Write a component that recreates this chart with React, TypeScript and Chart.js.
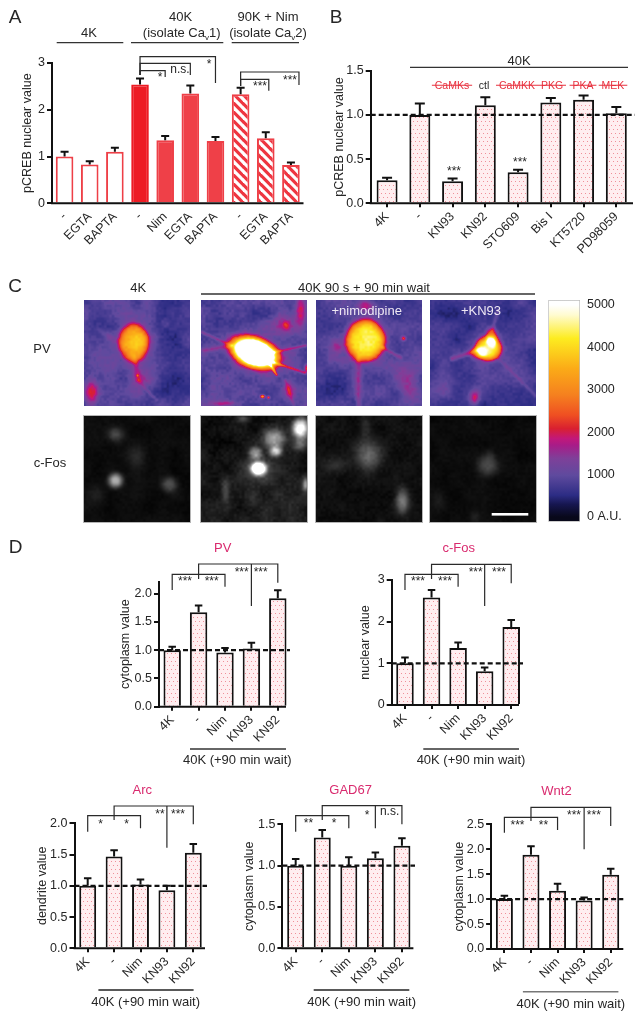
import React, { useEffect, useRef } from "react";
import { Chart, registerables } from "chart.js";

Chart.register(...registerables);

const W = 643;
const H = 1018;
const FONT = '"Liberation Sans", Arial, sans-serif';
const INK = "#262626";

// ---------- data ----------
const catsA = ["-", "EGTA", "BAPTA", "-", "Nim", "EGTA", "BAPTA", "-", "EGTA", "BAPTA"];
const valsA = [1.0, 0.83, 1.1, 2.54, 1.35, 2.35, 1.33, 2.33, 1.39, 0.82];
const topsA = [1.1, 0.9, 1.19, 2.67, 1.44, 2.52, 1.42, 2.47, 1.52, 0.87];
const stylesA = ["open", "open", "open", "solid", "mid", "mid", "mid", "hatch", "hatch", "hatch"];

const catsB = ["4K", "-", "KN93", "KN92", "STO609", "Bis I", "KT5720", "PD98059"];
const valsB = [0.26, 1.0, 0.25, 1.11, 0.35, 1.14, 1.17, 1.02];
const topsB = [0.29, 1.13, 0.28, 1.2, 0.38, 1.19, 1.22, 1.09];

const catsD = ["4K", "-", "Nim", "KN93", "KN92"];
const valsPV = [1.0, 1.67, 0.96, 1.03, 1.92];
const topsPV = [1.06, 1.79, 1.04, 1.13, 2.06];
const valsFos = [1.0, 2.58, 1.37, 0.81, 1.87];
const topsFos = [1.14, 2.76, 1.5, 0.9, 2.04];
const valsArc = [1.0, 1.47, 1.02, 0.93, 1.53];
const topsArc = [1.12, 1.57, 1.1, 1.0, 1.67];
const valsGAD = [1.0, 1.34, 1.0, 1.09, 1.24];
const topsGAD = [1.08, 1.43, 1.1, 1.16, 1.33];
const valsWnt = [1.0, 1.89, 1.17, 0.97, 1.49];
const topsWnt = [1.07, 2.06, 1.31, 1.03, 1.61];

const colorTicks = [0, 1000, 2000, 3000, 4000, 5000];
const lutStops: [number, string][] = [
  [0, "#08081a"], [300, "#161650"], [512, "#2c2c84"], [984, "#5f4a9e"], [1378, "#7e4099"],
  [1693, "#a81c88"], [1850, "#c2187a"], [2087, "#d92030"], [2402, "#ef4f22"], [2874, "#f5801f"],
  [3504, "#fbab17"], [4213, "#fdec20"], [4764, "#fffbd0"], [5000, "#ffffff"],
];

// ---------- panel layout ----------
type Panel = {
  cats: string[]; vals: number[]; tops: number[]; left: number; right: number; top: number; bottom: number;
  yMax: number; step: number; digits: number; yTitle: string; titleX: number; barPct: number; capW: number;
  axisEnd: number; dashEnd?: number; xTicks: boolean; styles?: string[];
  brackets?: number[][]; stems?: number[][];
};

const panels: Panel[] = [
  {
    cats: catsA, vals: valsA, tops: topsA, left: 52, right: 303.5, top: 63, bottom: 203.3, yMax: 3, step: 1, digits: 0,
    yTitle: "pCREB nuclear value", titleX: 28, barPct: 0.7, capW: 8, axisEnd: 303.5, xTicks: false, styles: stylesA,
    brackets: [
      [3, 6, 56.7, 75, 83], [3, 5, 63.3, 75, 75], [3, 4, 70.7, 75, 77],
      [7, 9.32, 72, 86, 85], [7, 8.12, 79.3, 86, 90.7],
    ],
  },
  {
    cats: catsB, vals: valsB, tops: topsB, left: 370.7, right: 632.7, top: 70.7, bottom: 203.3, yMax: 1.5, step: 0.5, digits: 1,
    yTitle: "pCREB nuclear value", titleX: 340, barPct: 0.64, capW: 10, axisEnd: 633, dashEnd: 635, xTicks: true,
  },
  {
    cats: catsD, vals: valsPV, tops: topsPV, left: 159, right: 291, top: 581.7, bottom: 706.7, yMax: 2.212, step: 0.5, digits: 1,
    yTitle: "cytoplasm value", titleX: 126, barPct: 0.66, capW: 7.5, axisEnd: 286, dashEnd: 290, xTicks: true,
    brackets: [[0, 2, 574.3, 590, 586.7], [1, 4, 564, 579, 582.7]], stems: [[3, 564, 606]],
  },
  {
    cats: catsD, vals: valsFos, tops: topsFos, left: 391.7, right: 524.5, top: 580, bottom: 705, yMax: 3, step: 1, digits: 0,
    yTitle: "nuclear value", titleX: 365.7, barPct: 0.66, capW: 7.5, axisEnd: 519, dashEnd: 523, xTicks: true,
    brackets: [[0, 2, 574.3, 590, 586.7], [1, 4, 564.3, 579, 583.3]], stems: [[3, 564.3, 606]],
  },
  {
    cats: catsD, vals: valsArc, tops: topsArc, left: 74.5, right: 206.5, top: 823.3, bottom: 948.3, yMax: 2, step: 0.5, digits: 1,
    yTitle: "dendrite value", titleX: 42.2, barPct: 0.64, capW: 7.5, axisEnd: 205, dashEnd: 207, xTicks: true,
    brackets: [[0, 2, 815.7, 831.7, 828.3], [1, 4, 806, 820, 824.3]], stems: [[3, 806, 847.7]],
  },
  {
    cats: catsD, vals: valsGAD, tops: topsGAD, left: 282.4, right: 415.2, top: 824.3, bottom: 948.3, yMax: 1.5, step: 0.5, digits: 1,
    yTitle: "cytoplasm value", titleX: 250, barPct: 0.64, capW: 7.5, axisEnd: 413.4, dashEnd: 415, xTicks: true,
    brackets: [[0, 2, 815.7, 831.7, 828.3], [1, 4, 805.7, 820, 824.3]], stems: [[3, 805.7, 828.3]],
  },
  {
    cats: catsD, vals: valsWnt, tops: topsWnt, left: 491.1, right: 624, top: 824.3, bottom: 949, yMax: 2.5, step: 0.5, digits: 1,
    yTitle: "cytoplasm value", titleX: 460, barPct: 0.64, capW: 7.5, axisEnd: 623.3, dashEnd: 623.3, xTicks: true,
    brackets: [[0, 2, 817.3, 832.7, 830], [1, 4, 807.3, 821, 826]], stems: [[3, 807.3, 849.3]],
  },
];

// ---------- text ----------
const RED = "#e8323f";
const PINK = "#d92a6e";
type Lab = { t: string; x: number; y: number; s?: number; c?: string; strike?: boolean };
const labels: Lab[] = [
  { t: "A", x: 15, y: 16, s: 19 }, { t: "B", x: 336, y: 16, s: 19 }, { t: "C", x: 15, y: 285, s: 19 }, { t: "D", x: 15.7, y: 546, s: 19 },
  { t: "4K", x: 89, y: 32 }, { t: "40K", x: 180.7, y: 16 }, { t: "(isolate Ca|v|1)", x: 181.7, y: 32 },
  { t: "90K + Nim", x: 268, y: 16 }, { t: "(isolate Ca|v|2)", x: 268, y: 32 },
  { t: "*", x: 160, y: 74, s: 12 }, { t: "n.s.", x: 180, y: 69, s: 12 }, { t: "*", x: 209, y: 61, s: 12 },
  { t: "***", x: 260, y: 83, s: 12 }, { t: "***", x: 290, y: 77, s: 12 },
  { t: "40K", x: 519, y: 60 },
  { t: "\u00a0CaMKs\u00a0", x: 452, y: 85, s: 10.5, c: RED, strike: true }, { t: "ctl", x: 484, y: 85, s: 10.5 },
  { t: "\u00a0CaMKK\u00a0", x: 517, y: 85, s: 10.5, c: RED, strike: true }, { t: "\u00a0PKG\u00a0", x: 552, y: 85, s: 10.5, c: RED, strike: true },
  { t: "\u00a0PKA\u00a0", x: 583, y: 85, s: 10.5, c: RED, strike: true }, { t: "\u00a0MEK\u00a0", x: 613, y: 85, s: 10.5, c: RED, strike: true },
  { t: "***", x: 454, y: 168, s: 12 }, { t: "***", x: 520, y: 159, s: 12 },
  { t: "4K", x: 138.2, y: 287 }, { t: "40K 90 s + 90 min wait", x: 364, y: 287 },
  { t: "PV", x: 42, y: 348 }, { t: "c-Fos", x: 50, y: 462 },
  { t: "+nimodipine", x: 366.7, y: 310, c: "#f0e8f4" }, { t: "+KN93", x: 481, y: 310, c: "#f0e8f4" },
  { t: "PV", x: 222.7, y: 547, c: PINK }, { t: "c-Fos", x: 458.7, y: 547, c: PINK },
  { t: "Arc", x: 142.3, y: 789.3, c: PINK }, { t: "GAD67", x: 350.6, y: 789.3, c: PINK }, { t: "Wnt2", x: 556.5, y: 790, c: PINK },
  { t: "40K (+90 min wait)", x: 237.3, y: 759.3 }, { t: "40K (+90 min wait)", x: 471, y: 759.3 },
  { t: "40K (+90 min wait)", x: 145.6, y: 1000.7 }, { t: "40K (+90 min wait)", x: 361.7, y: 1000.7 }, { t: "40K (+90 min wait)", x: 570.8, y: 1002.7 },
  { t: "***", x: 185, y: 578, s: 12 }, { t: "***", x: 211.7, y: 578, s: 12 }, { t: "***", x: 241.7, y: 568.7, s: 12 }, { t: "***", x: 260.7, y: 568.7, s: 12 },
  { t: "***", x: 418, y: 578, s: 12 }, { t: "***", x: 445, y: 578, s: 12 }, { t: "***", x: 475.7, y: 568.7, s: 12 }, { t: "***", x: 499, y: 568.7, s: 12 },
  { t: "*", x: 100.5, y: 820.7, s: 12 }, { t: "*", x: 126.7, y: 820.7, s: 12 }, { t: "**", x: 160, y: 811.3, s: 12 }, { t: "***", x: 178, y: 811.3, s: 12 },
  { t: "**", x: 308.4, y: 820, s: 12 }, { t: "*", x: 334.2, y: 820, s: 12 }, { t: "*", x: 367, y: 811.7, s: 12 }, { t: "n.s.", x: 389.6, y: 811, s: 12 },
  { t: "***", x: 517.5, y: 821.7, s: 12 }, { t: "**", x: 543.4, y: 821.7, s: 12 }, { t: "***", x: 574, y: 812, s: 12 }, { t: "***", x: 593.8, y: 812, s: 12 },
];

// x1, x2, y, colour of plain rule lines
const rules: [number, number, number, string, number][] = [
  [56.7, 123.3, 42.7, "#333", 1.3], [131, 223.3, 42.7, "#333", 1.3], [231.7, 299, 42.7, "#333", 1.3],
  [410, 628, 67.3, "#333", 1.3], [201, 535, 294, "#333", 1.3],
  [190, 286, 749, "#333", 1.3], [423.3, 519, 749, "#333", 1.3],
  [98.4, 193.6, 990, "#222", 1.3], [313.7, 409.3, 990, "#222", 1.3], [522.9, 618.4, 991.7, "#777", 1.6],
];

// ---------- microscope images ----------
type Field = {
  base: number; blobs: number[][]; segs: number[][]; noise: number; fine: number;
};
const imgX = [84.3, 200.7, 316, 430];
const imgW = 105.5;
const rowY = [300, 415.7];

const pvFields: Field[] = [
  {
    base: 840, noise: 190, fine: 90,
    blobs: [
      [49, 42, 15, 19, 2200, 6], [49, 42, 18, 22, 450, 2], [7, 92, 7, 13, 1300, 2], [81, 23, 5, 5, 380, 2],
      [57, 62, 16, 42, 260, 2], [58, 80, 9, 6, 300, 2], [88, 25, 18, 28, -240, 2], [85, 85, 20, 22, -220, 2],
      [12, 15, 14, 14, -120, 2], [53, 75, 1.2, 1.2, 800, 2],
    ],
    segs: [[50, 58, 54, 78, 3.2, 550], [15, 30, 40, 45, 3, 200], [54, 80, 72, 100, 1.6, 250]],
  },
  {
    base: 880, noise: 170, fine: 110,
    blobs: [
      [53, 52, 24, 14, 5800, 4, 0.34], [53, 52, 27, 17, 900, 2, 0.34], [81, 25, 11, 11, 750, 2], [85, 25, 4, 4, 800, 2],
      [99, 12, 5, 15, 1100, 2], [88, 90, 6, 9, 950, 2], [61, 96, 2.2, 1.6, 2400, 2], [67, 97, 1.5, 1.4, 1700, 2],
      [23, 103, 12, 2.5, 800, 2], [105, 68, 2, 4, 1500, 2], [25, 18, 25, 14, -240, 2], [72, 12, 16, 10, -200, 2],
    ],
    segs: [
      [1, 32, 30, 45, 1.6, 550], [3, 50, 29, 45, 2.5, 600], [72, 52, 104, 45, 1.5, 750],
      [72, 62, 103, 72, 1.6, 1050], [68, 63, 75, 74, 1.5, 1600], [84, 80, 92, 104, 2, 500],
    ],
  },
  {
    base: 830, noise: 180, fine: 90,
    blobs: [
      [49, 40, 19.5, 20.5, 3000, 6], [49, 40, 23, 24, 450, 2], [21, 47, 7, 7, 750, 2], [89, 78, 12, 12, 700, 2], [96, 92, 8, 8, 450, 2],
      [49, 5, 8, 5, 1000, 2], [87, 38, 2.2, 2.2, 1500, 2], [15, 85, 20, 20, -180, 2], [92, 15, 18, 14, -200, 2],
    ],
    segs: [[42, 58, 42, 105, 3, 550], [66, 47, 84, 57, 2, 600], [15, 58, 40, 60, 4, 220]],
  },
  {
    base: 700, noise: 190, fine: 80,
    blobs: [
      [58, 48, 13, 12, 3000, 5], [61, 37, 5.5, 9, 1900, 3], [48, 52, 9, 6, 1500, 3], [57, 47, 18, 16, 400, 2], [44, 97, 5, 7, 1200, 2],
      [25, 20, 22, 18, -120, 2], [85, 75, 16, 22, 150, 2], [15, 85, 14, 14, 230, 2],
    ],
    segs: [[22, 58, 46, 50, 2.4, 700], [62, 30, 67, 10, 2, 400], [68, 58, 105, 95, 2, 300]],
  },
];

const fosFields: Field[] = [
  {
    base: 11, noise: 5, fine: 3,
    blobs: [[31, 18, 8, 7, 62, 2], [52, 41, 9, 14, 26, 2], [31, 64, 7, 7, 165, 2.6], [85, 68, 7.5, 7.5, 68, 2.4], [9, 78, 13, 11, 15, 2]],
    segs: [],
  },
  {
    base: 22, noise: 10, fine: 7,
    blobs: [
      [57, 52, 7.5, 6.5, 300, 3], [57, 52, 15, 13, 70, 2], [54, 37, 6.5, 6, 130, 2.5], [73, 23, 10.5, 9.5, 135, 2.5], [74, 35, 6, 5, 165, 2.5],
      [99, 12, 8, 9, 270, 2.5], [98, 28, 7, 6, 80, 2], [24, 74, 4, 11, 50, 2], [51, 81, 6, 9, 30, 2], [104, 68, 3, 6, 110, 2],
      [42, 2, 6, 3, 50, 2], [85, 85, 25, 25, 20, 2], [15, 15, 20, 20, -14, 2],
    ],
    segs: [],
  },
  {
    base: 15, noise: 6, fine: 5,
    blobs: [[52, 39, 13, 13, 95, 2], [49, 10, 6, 14, 30, 2], [19, 48, 12, 7, 28, 2], [86, 84, 6.5, 12, 105, 2.2]],
    segs: [],
  },
  {
    base: 10, noise: 4, fine: 3,
    blobs: [[57, 49, 10, 10, 62, 2.4], [60, 38, 4, 5, 18, 2], [9, 84, 6, 10, 18, 2], [44, 101, 5, 6, 22, 2]],
    segs: [],
  },
];

// deterministic texture, so that the pictures look like speckled micrographs
function hash(x: number, y: number, seed: number) {
  const s = Math.sin(x * 12.9898 + y * 78.233 + seed * 37.719) * 43758.5453;
  return s - Math.floor(s);
}
function smooth(x: number, y: number, size: number, seed: number) {
  const gx = x / size;
  const gy = y / size;
  const ix = Math.floor(gx);
  const iy = Math.floor(gy);
  let fx = gx - ix;
  let fy = gy - iy;
  fx = fx * fx * (3 - 2 * fx);
  fy = fy * fy * (3 - 2 * fy);
  const a = hash(ix, iy, seed) * (1 - fx) + hash(ix + 1, iy, seed) * fx;
  const b = hash(ix, iy + 1, seed) * (1 - fx) + hash(ix + 1, iy + 1, seed) * fx;
  return (a * (1 - fy) + b * fy) * 2 - 1;
}
function fieldAt(f: Field, x: number, y: number) {
  let v = f.base;
  for (const [cx, cy, rx, ry, amp, p = 2, ang = 0] of f.blobs) {
    const dx = x - cx;
    const dy = y - cy;
    const c = Math.cos(ang);
    const s = Math.sin(ang);
    const u = (dx * c + dy * s) / rx;
    const w = (-dx * s + dy * c) / ry;
    v += amp * Math.exp(-Math.pow(u * u + w * w, p / 2));
  }
  for (const [x1, y1, x2, y2, wd, amp] of f.segs) {
    const lx = x2 - x1;
    const ly = y2 - y1;
    const t = Math.max(0, Math.min(1, ((x - x1) * lx + (y - y1) * ly) / (lx * lx + ly * ly)));
    const d = Math.hypot(x - x1 - t * lx, y - y1 - t * ly) / wd;
    v += amp * Math.exp(-d * d);
  }
  return v;
}
function hexRgb(h: string) {
  return [parseInt(h.slice(1, 3), 16), parseInt(h.slice(3, 5), 16), parseInt(h.slice(5, 7), 16)];
}
function lut(v: number) {
  const c = Math.max(0, Math.min(5000, v));
  for (let i = 1; i < lutStops.length; i++) {
    if (c <= lutStops[i][0]) {
      const t = (c - lutStops[i - 1][0]) / (lutStops[i][0] - lutStops[i - 1][0]);
      const a = hexRgb(lutStops[i - 1][1]);
      const b = hexRgb(lutStops[i][1]);
      return [a[0] + (b[0] - a[0]) * t, a[1] + (b[1] - a[1]) * t, a[2] + (b[2] - a[2]) * t];
    }
  }
  return [255, 255, 255];
}
function paintImages(ctx: CanvasRenderingContext2D) {
  const size = Math.round(imgW);
  const put = (f: Field, col: number, row: number, heat: boolean) => {
    const data = ctx.createImageData(size, size);
    for (let y = 0; y < size; y++) {
      for (let x = 0; x < size; x++) {
        const seed = col + row * 10 + 1;
        const bump = smooth(x, y, 13, seed) * f.noise + smooth(x, y, 2.6, seed + 3) * f.fine;
        const raw = fieldAt(f, x, y);
        const v = raw + bump * (1 + raw / (heat ? 4000 : 80) * 0.5);
        const rgb = heat ? lut(v) : [v, v, v];
        const i = (y * size + x) * 4;
        data.data[i] = rgb[0];
        data.data[i + 1] = rgb[1];
        data.data[i + 2] = rgb[2];
        data.data[i + 3] = 255;
      }
    }
    ctx.putImageData(data, Math.round(imgX[col]), Math.round(rowY[row]));
    if (!heat) {
      ctx.strokeStyle = "#b5b5b5";
      ctx.lineWidth = 1;
      ctx.strokeRect(Math.round(imgX[col]) - 0.5, Math.round(rowY[row]) - 0.5, size + 1, size + 1);
    }
  };
  pvFields.forEach((f, i) => put(f, i, 0, true));
  fosFields.forEach((f, i) => put(f, i, 1, false));
  ctx.fillStyle = "#ffffff";
  ctx.fillRect(491.7, 513, 36.6, 2.6);
}

// ---------- fills ----------
function tile(w: number, h: number, draw: (c: CanvasRenderingContext2D) => void) {
  const cv = document.createElement("canvas");
  cv.width = w;
  cv.height = h;
  draw(cv.getContext("2d")!);
  return cv;
}
function makeFills(ctx: CanvasRenderingContext2D) {
  const dots = tile(8, 8, (c) => {
    c.fillStyle = "#ffeef0";
    c.fillRect(0, 0, 8, 8);
    c.fillStyle = "#f0909a";
    [[1, 1], [5, 1], [3, 5], [7, 5]].forEach(([x, y]) => c.fillRect(x, y, 1, 1));
  });
  const hatch = tile(9, 9, (c) => {
    c.fillStyle = "#ee3540";
    c.fillRect(0, 0, 9, 9);
    c.strokeStyle = "#ffffff";
    c.lineWidth = 3.2;
    [-9, 0, 9].forEach((k) => {
      c.beginPath();
      c.moveTo(-1, -1 + k);
      c.lineTo(10, 10 + k);
      c.stroke();
    });
  });
  return { dots: ctx.createPattern(dots, "repeat")!, hatch: ctx.createPattern(hatch, "repeat")! };
}

// ---------- bar charts ----------
const X_BOX = 62;

const decor = (p: Panel) => ({
  id: "decor",
  afterDatasetsDraw(chart: any) {
    const { ctx } = chart;
    const x = chart.scales.x;
    const y = chart.scales.y;
    ctx.save();
    // error whiskers
    ctx.strokeStyle = "#111";
    ctx.lineWidth = 2;
    p.vals.forEach((v, i) => {
      const px = x.getPixelForValue(i);
      const top = y.getPixelForValue(p.tops[i]);
      ctx.beginPath();
      ctx.moveTo(px, y.getPixelForValue(v));
      ctx.lineTo(px, top);
      ctx.moveTo(px - p.capW / 2, top);
      ctx.lineTo(px + p.capW / 2, top);
      ctx.stroke();
    });
    // reference level
    if (p.dashEnd) {
      const py = y.getPixelForValue(1);
      ctx.setLineDash([5, 3]);
      ctx.lineWidth = 2.2;
      ctx.beginPath();
      ctx.moveTo(p.left, py);
      ctx.lineTo(p.dashEnd, py);
      ctx.stroke();
      ctx.setLineDash([]);
    }
    // baseline
    ctx.lineWidth = 2;
    ctx.beginPath();
    ctx.moveTo(p.left - 1, p.bottom);
    ctx.lineTo(p.axisEnd, p.bottom);
    ctx.stroke();
    // significance brackets
    ctx.strokeStyle = "#2a2a2a";
    ctx.lineWidth = 1.2;
    (p.brackets || []).forEach(([a, b, yy, da, db]) => {
      const xa = x.getPixelForValue(a);
      const xb = x.getPixelForValue(b);
      ctx.beginPath();
      ctx.moveTo(xa, da);
      ctx.lineTo(xa, yy);
      ctx.lineTo(xb, yy);
      ctx.lineTo(xb, db);
      ctx.stroke();
    });
    (p.stems || []).forEach(([a, y1, y2]) => {
      const xa = x.getPixelForValue(a);
      ctx.beginPath();
      ctx.moveTo(xa, y1);
      ctx.lineTo(xa, y2);
      ctx.stroke();
    });
    ctx.restore();
  },
});

function makeBar(canvas: HTMLCanvasElement, p: Panel) {
  const ctx = canvas.getContext("2d")!;
  const fills = makeFills(ctx);
  const yW = p.left - p.titleX + 7.5;
  const fill = (s: string) =>
    s === "open" ? "#ffffff" : s === "solid" ? "#ed1c24" : s === "mid" ? "#ef4048" : s === "hatch" ? fills.hatch : fills.dots;
  const styles = p.styles || p.vals.map(() => "dots");
  return new Chart(canvas, {
    type: "bar",
    data: {
      labels: p.cats,
      datasets: [{
        data: p.vals,
        backgroundColor: styles.map(fill) as any,
        borderColor: styles.map((s) => (s === "dots" ? "#111111" : s === "solid" ? "#ed1c24" : "#ee3f47")),
        borderWidth: 2,
        barPercentage: p.barPct,
        categoryPercentage: 1,
      }],
    },
    options: {
      responsive: false,
      animation: false,
      layout: { padding: { left: p.left - yW, top: p.top, right: W - p.right, bottom: H - p.bottom - X_BOX } },
      plugins: { legend: { display: false }, tooltip: { enabled: false } },
      scales: {
        x: {
          afterFit: (s: any) => { s.height = X_BOX; },
          border: { display: false },
          grid: { offset: false, drawOnChartArea: false, color: p.xTicks ? "#111" : "rgba(0,0,0,0)", lineWidth: 2, tickLength: 4 },
          ticks: { autoSkip: false, minRotation: 45, maxRotation: 45, padding: 2, color: INK, font: { family: FONT, size: 12.5 } },
        },
        y: {
          min: 0,
          max: p.yMax,
          afterFit: (s: any) => { s.width = yW; },
          border: { display: true, color: "#111", width: 2 },
          grid: { drawOnChartArea: false, color: "#111", lineWidth: 2, tickLength: 5 },
          title: { display: true, text: p.yTitle, color: INK, padding: 0, font: { family: FONT, size: 12.5 } },
          ticks: {
            stepSize: p.step, includeBounds: false, padding: 2, color: INK, font: { family: FONT, size: 12.5 },
            callback: (v: any) => Number(v).toFixed(p.digits),
          },
        },
      },
    },
    plugins: [decor(p)],
  } as any);
}

function makeColorBar(canvas: HTMLCanvasElement) {
  const left = 548.3;
  const right = 580;
  const top = 300;
  const bottom = 521.7;
  const boxW = 55;
  const vMin = -111;
  const vMax = 5118;
  const pixel = (v: number) => bottom - ((v - vMin) / (vMax - vMin)) * (bottom - top);
  const g = canvas.getContext("2d")!.createLinearGradient(0, pixel(0), 0, pixel(5000));
  lutStops.forEach(([v, col]) => g.addColorStop(v / 5000, col));
  return new Chart(canvas, {
    type: "bar",
    data: {
      labels: ["A.U."],
      datasets: [{
        data: [[vMin, vMax]],
        barPercentage: 1,
        categoryPercentage: 1,
        borderWidth: 1,
        borderColor: "#bdbdbd",
        borderSkipped: false,
        backgroundColor: g,
      }],
    },
    options: {
      responsive: false,
      animation: false,
      layout: { padding: { left, top, right: W - right - boxW, bottom: H - bottom } },
      plugins: { legend: { display: false }, tooltip: { enabled: false } },
      scales: {
        x: { display: false },
        y: {
          position: "right",
          min: vMin,
          max: vMax,
          afterFit: (s: any) => { s.width = boxW; },
          afterBuildTicks: (s: any) => { s.ticks = colorTicks.map((value) => ({ value })); },
          border: { display: false },
          grid: { display: false, drawTicks: false },
          ticks: {
            padding: 7, color: INK, font: { family: FONT, size: 12.5 },
            callback: (v: any) => (Number(v) === 0 ? "0 A.U." : String(v)),
          },
        },
      },
    },
  } as any);
}

// ---------- view ----------
const layer: React.CSSProperties = { position: "absolute", left: 0, top: 0, pointerEvents: "none" };

function Text({ l }: { l: Lab }) {
  const parts = l.t.split("|");
  const onlyStars = /^\*+$/.test(l.t);
  return (
    <div
      style={{
        position: "absolute",
        left: l.x,
        top: l.y + (onlyStars ? 3 : 0),
        transform: "translate(-50%,-50%)",
        whiteSpace: "pre",
        fontFamily: FONT,
        fontSize: l.s || 13,
        lineHeight: 1,
        color: l.c || INK,
        textDecoration: l.strike ? "line-through" : "none",
      }}
    >
      {parts.map((q, i) =>
        i % 2 ? (
          <sub key={i} style={{ fontSize: 8, lineHeight: 0 }}>{q}</sub>
        ) : (
          <span key={i}>{q}</span>
        )
      )}
    </div>
  );
}

export default function App() {
  const imgRef = useRef<HTMLCanvasElement>(null);
  const barRef = useRef<HTMLCanvasElement>(null);
  const refs = useRef<(HTMLCanvasElement | null)[]>([]);

  useEffect(() => {
    const ctx = imgRef.current!.getContext("2d")!;
    ctx.clearRect(0, 0, W, H);
    paintImages(ctx);
    rules.forEach(([a, b, y, col, lw]) => {
      ctx.strokeStyle = col;
      ctx.lineWidth = lw;
      ctx.beginPath();
      ctx.moveTo(a, y);
      ctx.lineTo(b, y);
      ctx.stroke();
    });
    const charts = panels.map((p, i) => makeBar(refs.current[i]!, p));
    charts.push(makeColorBar(barRef.current!));
    return () => charts.forEach((c) => c.destroy());
  }, []);

  return (
    <div style={{ position: "absolute", left: 0, top: 0, width: W, height: H, background: "#fff", overflow: "hidden" }}>
      <canvas ref={imgRef} width={W} height={H} style={layer} />
      {panels.map((_, i) => (
        <canvas key={i} ref={(el) => { refs.current[i] = el; }} width={W} height={H} style={layer} />
      ))}
      <canvas ref={barRef} width={W} height={H} style={layer} />
      {labels.map((l, i) => <Text key={i} l={l} />)}
    </div>
  );
}
